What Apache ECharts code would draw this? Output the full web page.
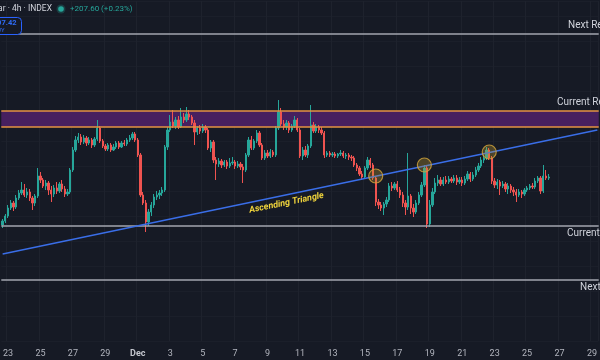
<!DOCTYPE html>
<html><head><meta charset="utf-8">
<script src="https://cdn.jsdelivr.net/npm/echarts@6/dist/echarts.min.js"></script>
<style>html,body{margin:0;padding:0;background:#161a25}#c{width:600px;height:360px}</style>
</head><body><div id="c"></div>
<script>
// 4h slots, starting Nov 22 2025 16:00 UTC
const startTime = Date.UTC(2025, 10, 22, 16);
const slotHours = 4;
const slotCount = 221;

// prices in thousands USD
const open = [84.1,84.5,85.0,85.8,86.3,85.9,86.8,87.3,87.6,87.1,87.4,86.8,86.3,87.0,89.0,88.6,88.0,88.3,87.6,87.2,
87.8,87.5,88.2,87.7,87.2,87.4,89.6,91.6,92.6,92.9,
92.4,92.8,92.3,92.6,92.1,92.7,93.8,92.5,92.0,91.7,
92.1,91.6,91.9,92.3,91.9,92.3,92.2,92.6,92.8,93.2,
92.6,91.1,87.1,86.3,84.4,85.4,86.1,86.9,87.1,87.3,
87.6,91.9,93.6,94.4,94.0,94.6,93.9,94.9,94.6,95.2,
94.9,94.3,93.4,93.8,93.5,93.9,93.6,91.8,92.4,90.6,
90.2,90.5,90.1,90.4,90.0,90.3,90.4,90.0,90.2,89.9,
89.6,91.1,92.6,91.8,92.5,93.3,92.1,90.8,91.3,91.0,
91.4,91.1,93.8,95.4,94.2,93.9,94.3,93.6,94.0,94.6,
93.6,91.0,91.6,91.1,92.0,94.1,93.5,93.9,93.6,93.3,
91.1,91.3,91.1,91.2,91.0,91.2,91.3,91.0,91.1,90.9,
90.8,90.1,89.8,89.2,88.9,89.8,90.6,90.1,88.8,86.4,
86.1,85.8,86.2,86.6,88.0,87.8,88.2,87.6,87.1,86.3,
85.9,87.0,85.8,85.4,86.3,87.1,88.1,89.8,84.2,86.1,
87.4,88.3,88.6,88.2,88.6,88.4,88.7,88.5,88.8,88.4,
88.6,88.3,88.7,89.2,88.7,89.1,89.6,90.0,90.6,90.8,
91.6,90.8,88.5,88.1,88.4,88.0,88.2,87.7,88.0,87.6,
87.4,87.1,87.4,87.2,87.6,87.8,88.0,87.9,88.5,88.8,
87.5,89.0,88.8];
const close = [84.5,85.0,85.8,86.3,85.9,86.8,87.3,87.6,87.1,87.4,
86.8,86.3,87.0,89.0,88.6,88.0,88.3,87.6,87.2,87.8,
87.5,88.2,87.7,87.2,87.4,89.6,91.6,92.6,92.9,92.4,
92.8,92.3,92.6,92.1,92.7,93.8,92.5,92.0,91.7,92.1,
91.6,91.9,92.3,91.9,92.3,92.2,92.6,92.8,93.2,92.6,
91.1,87.1,86.3,84.4,85.4,86.1,86.9,87.1,87.3,87.6,
91.9,93.6,94.4,94.0,94.6,93.9,94.9,94.6,95.2,94.9,
94.3,93.4,93.8,93.5,93.9,93.6,91.8,92.4,90.6,90.2,
90.5,90.1,90.4,90.0,90.3,90.4,90.0,90.2,89.9,89.6,
91.1,92.6,91.8,92.5,93.3,92.1,90.8,91.3,91.0,91.4,
91.1,93.8,95.4,94.2,93.9,94.3,93.6,94.0,94.6,93.6,
91.0,91.6,91.1,92.0,94.1,93.5,93.9,93.6,93.3,91.1,
91.3,91.1,91.2,91.0,91.2,91.3,91.0,91.1,90.9,90.8,
90.1,89.8,89.2,88.9,89.8,90.6,90.1,88.8,86.4,86.1,
85.8,86.2,86.6,88.0,87.8,88.2,87.6,87.1,86.3,85.9,
87.0,85.8,85.4,86.3,87.1,88.1,89.8,84.2,86.1,87.4,
88.3,88.6,88.2,88.6,88.4,88.7,88.5,88.8,88.4,88.6,
88.3,88.7,89.2,88.7,89.1,89.6,90.0,90.6,90.8,91.6,
90.8,88.5,88.1,88.4,88.0,88.2,87.7,88.0,87.6,87.4,
87.1,87.4,87.2,87.6,87.8,88.0,87.9,88.5,88.8,87.5,
89.0,88.8,88.9];
const high = [84.7,85.2,86.1,86.6,86.5,87.1,87.6,88.4,88.2,87.8,
87.7,87.0,87.2,89.8,89.4,88.8,88.6,88.5,88.0,88.1,
88.4,88.4,88.6,88.0,87.7,89.8,91.9,93.0,93.3,93.2,
93.1,93.0,92.9,92.8,92.9,94.6,94.0,92.7,92.2,92.3,
92.3,92.2,92.5,92.5,92.5,92.6,92.8,93.1,93.4,93.4,
92.8,91.3,87.4,86.6,85.7,86.4,87.2,87.5,87.6,87.9,
92.1,93.9,95.1,95.6,94.9,95.0,95.8,95.3,95.9,95.6,
95.1,94.6,94.0,94.1,94.2,94.1,93.8,92.6,92.6,90.9,
90.8,90.7,90.6,90.6,90.8,90.9,90.6,90.5,90.4,90.2,
91.3,92.9,93.0,92.7,93.6,93.5,92.3,91.6,91.6,91.7,
91.6,94.0,96.6,95.8,94.6,94.6,94.5,94.2,95.0,94.8,
93.8,91.9,92.0,92.2,96.1,94.4,94.2,94.1,93.9,93.5,
91.5,91.5,91.4,91.4,91.3,91.6,91.5,91.3,91.3,91.1,
91.0,90.3,90.0,89.5,90.0,90.9,90.8,90.3,89.0,86.7,
86.4,86.4,86.9,88.3,88.4,88.4,88.5,87.9,87.4,86.6,
91.3,87.2,86.2,86.6,87.4,88.4,90.1,90.0,86.6,87.8,
88.8,89.1,88.9,88.9,89.0,89.0,88.9,89.1,89.1,88.9,
88.9,89.0,89.5,89.4,89.4,89.9,90.3,90.9,91.1,91.9,
91.8,91.0,88.8,88.7,88.6,88.5,88.4,88.3,88.2,87.9,
87.7,87.7,87.6,87.8,88.0,88.2,88.3,88.8,89.0,89.0,
90.1,89.6,89.2];
const low = [83.8,84.3,84.8,85.6,85.5,85.7,86.6,87.1,86.9,86.8,
86.5,85.6,86.0,86.8,88.3,87.8,87.6,87.1,86.4,86.9,
87.2,87.3,87.4,86.9,87.0,87.2,89.4,91.4,92.3,92.1,
92.2,92.0,92.1,91.8,91.9,92.5,92.3,91.8,91.5,91.5,
91.4,91.5,91.7,91.7,91.8,92.0,92.0,92.4,92.6,92.4,
90.9,86.9,86.1,83.4,84.0,85.0,85.8,86.6,86.7,87.0,
87.4,91.6,93.4,93.8,93.7,93.7,93.8,94.3,94.4,94.6,
94.1,92.1,93.1,93.2,93.3,93.3,91.6,91.4,90.3,88.6,
89.9,89.8,89.9,89.7,89.8,90.1,89.7,89.8,89.6,88.3,
89.4,90.9,91.6,91.6,92.3,91.9,90.6,90.6,90.8,90.8,
90.9,90.9,93.6,94.0,93.6,93.6,93.3,93.4,93.8,93.4,
90.8,90.6,90.9,90.8,91.8,93.3,93.3,93.3,93.1,90.8,
90.9,90.9,90.9,90.8,90.8,91.0,90.8,90.7,90.6,90.5,
89.9,89.5,89.0,88.6,88.7,89.6,89.8,88.6,86.0,85.7,
85.5,85.1,85.9,86.4,87.5,87.6,87.4,86.8,85.9,85.1,
85.6,85.2,84.9,85.2,86.1,86.9,87.9,83.8,83.9,85.9,
87.2,88.0,88.0,88.0,88.2,88.2,88.3,88.3,88.1,88.2,
88.0,88.1,88.5,88.4,88.5,88.9,89.4,89.8,90.3,90.6,
90.6,88.2,87.8,87.7,87.1,87.8,87.4,87.2,87.3,87.0,
86.4,86.9,86.8,87.0,87.4,87.6,87.7,87.7,88.3,87.2,
87.3,88.6,88.6];

// horizontal levels (thousands USD)
const levelNames = ['Next Resistance', 'Current Resistance', 'Current Support', 'Next Support'];
const levelValues = [103.2, 95.5, 84.0, 78.6];
const resistanceBand = [93.9, 95.5];
// trendline endpoints [slot index, price]
const trendStart = [0, 81.2];
const trendEnd = [220, 93.6];
// touch points on the trendline
const touchIdx = [138, 156, 180];
const touchVal = [89.0, 90.1, 91.4];
// annotation anchor
const noteText = 'Ascending Triangle';
const noteIdx = 105;
const noteVal = 86.3;

const categories = [];
for (let i = 0; i < slotCount; i++) {
  categories.push(new Date(startTime + i * slotHours * 3600e3).toISOString().slice(0, 13));
}
const isTick = (idx, v) => v.endsWith('T00') && (+v.slice(8, 10)) % 2 === 1;
const candleData = open.map((o, i) => [o, close[i], low[i], high[i]]);

const chart = echarts.init(document.getElementById('c'), null, {renderer: 'canvas'});
const font = 'Roboto, "Noto Sans", sans-serif';
const grayLine = {color: '#a3a6af', width: 1.5, type: 'solid'};
const orangeLine = {color: '#e39342', width: 1.5, type: 'solid'};

chart.setOption({
  backgroundColor: '#161a25',
  animation: false,
  grid: {left: 0, right: 0, top: 1, height: 340},
  xAxis: {
    type: 'category', data: categories, boundaryGap: true,
    axisLine: {show: false}, axisTick: {show: false},
    axisLabel: {
      interval: isTick, color: '#b2b5be', fontSize: 9, margin: 8, fontFamily: font,
      formatter: v => { const d = +v.slice(8, 10); return d === 1 ? '{b|Dec}' : String(d); },
      rich: {b: {fontWeight: 'bold', fontSize: 9, color: '#c3c6ce', fontFamily: font}}
    },
    splitLine: {show: true, interval: isTick, lineStyle: {color: '#1e222d', width: 1}}
  },
  yAxis: {
    type: 'value', min: 72.5, max: 106.5, interval: 2.5,
    axisLabel: {show: false}, axisLine: {show: false}, axisTick: {show: false},
    splitLine: {show: true, lineStyle: {color: '#1b1f2a', width: 1}}
  },
  series: [
    {
      type: 'line', data: [], z: 1, silent: true,
      markArea: {
        silent: true,
        itemStyle: {color: '#47205f'},
        data: [[{yAxis: resistanceBand[0]}, {yAxis: resistanceBand[1]}]]
      },
      markLine: {
        silent: true, symbol: 'none', label: {show: false},
        data: [
          {yAxis: levelValues[0], lineStyle: grayLine},
          {yAxis: resistanceBand[1], lineStyle: orangeLine},
          {yAxis: resistanceBand[0], lineStyle: orangeLine},
          {yAxis: levelValues[2], lineStyle: grayLine},
          {yAxis: levelValues[3], lineStyle: grayLine}
        ]
      }
    },
    {
      type: 'candlestick', data: candleData, z: 3, barWidth: 1.8,
      itemStyle: {color: '#26a69a', color0: '#ef5350', borderColor: '#26a69a', borderColor0: '#ef5350', borderWidth: 1}
    },
    {
      type: 'line', data: [], z: 4, silent: true,
      markLine: {
        silent: true, symbol: 'none', label: {show: false},
        lineStyle: {color: '#3a6ee8', width: 1.5, type: 'solid'},
        data: [[{coord: [categories[trendStart[0]], trendStart[1]]}, {coord: [categories[trendEnd[0]], trendEnd[1]]}]]
      }
    },
    {
      type: 'scatter', z: 5, symbolSize: 14, silent: true,
      data: touchIdx.map((k, i) => [categories[k], touchVal[i]]),
      itemStyle: {color: 'rgba(200,160,50,0.38)', borderColor: '#d6a83c', borderWidth: 1.2}
    }
  ]
});

const py = v => chart.convertToPixel({yAxisIndex: 0}, v);
const px = k => chart.convertToPixel({xAxisIndex: 0}, categories[k]);
const lblStyle = {fill: '#d1d4dc', fontSize: 10, fontFamily: font};
chart.setOption({
  graphic: [
    {type: 'text', left: 568, top: py(levelValues[0]) - 14, style: Object.assign({text: levelNames[0]}, lblStyle), z: 10},
    {type: 'text', left: 557, top: py(levelValues[1]) - 14, style: Object.assign({text: levelNames[1]}, lblStyle), z: 10},
    {type: 'text', left: 567, top: py(levelValues[2]) + 2, style: Object.assign({text: levelNames[2]}, lblStyle), z: 10},
    {type: 'text', left: 580, top: py(levelValues[3]) + 2, style: Object.assign({text: levelNames[3]}, lblStyle), z: 10},
    {type: 'text', x: px(noteIdx), y: py(noteVal), rotation: 0.2, z: 10,
      style: {text: noteText, fill: '#f0d43c', fontSize: 9, fontWeight: 'bold', fontStyle: 'italic', fontFamily: font, align: 'center', verticalAlign: 'middle'}},
    // header
    {type: 'text', x: 52, y: 9, z: 10, style: {text: 'Bitcoin / U.S. Dollar · 4h · INDEX', fill: '#d1d4dc', fontSize: 8.5, fontFamily: font, align: 'right', verticalAlign: 'middle'}},
    {type: 'circle', shape: {cx: 61, cy: 9, r: 4.5}, style: {fill: 'rgba(38,166,154,0.25)'}, z: 10},
    {type: 'circle', shape: {cx: 61, cy: 9, r: 2.8}, style: {fill: '#26a69a'}, z: 10},
    {type: 'text', x: 70, y: 9, z: 10, style: {text: '+207.60 (+0.23%)', fill: '#26a69a', fontSize: 8, fontFamily: font, verticalAlign: 'middle'}},
    {type: 'rect', shape: {x: -30, y: 17.5, width: 51.5, height: 17, r: 4}, style: {fill: '#161a25', stroke: '#2962ff', lineWidth: 1}, z: 10},
    {type: 'text', x: 16.5, y: 23, z: 11, style: {text: '88,707.42', fill: '#2f6cf6', fontSize: 7.5, fontWeight: 'bold', fontFamily: font, align: 'right', verticalAlign: 'middle'}},
    {type: 'text', x: 4.5, y: 30, z: 11, style: {text: 'BUY', fill: '#2f6cf6', fontSize: 6, fontFamily: font, align: 'right', verticalAlign: 'middle'}}
  ]
});
</script>
</body></html>
